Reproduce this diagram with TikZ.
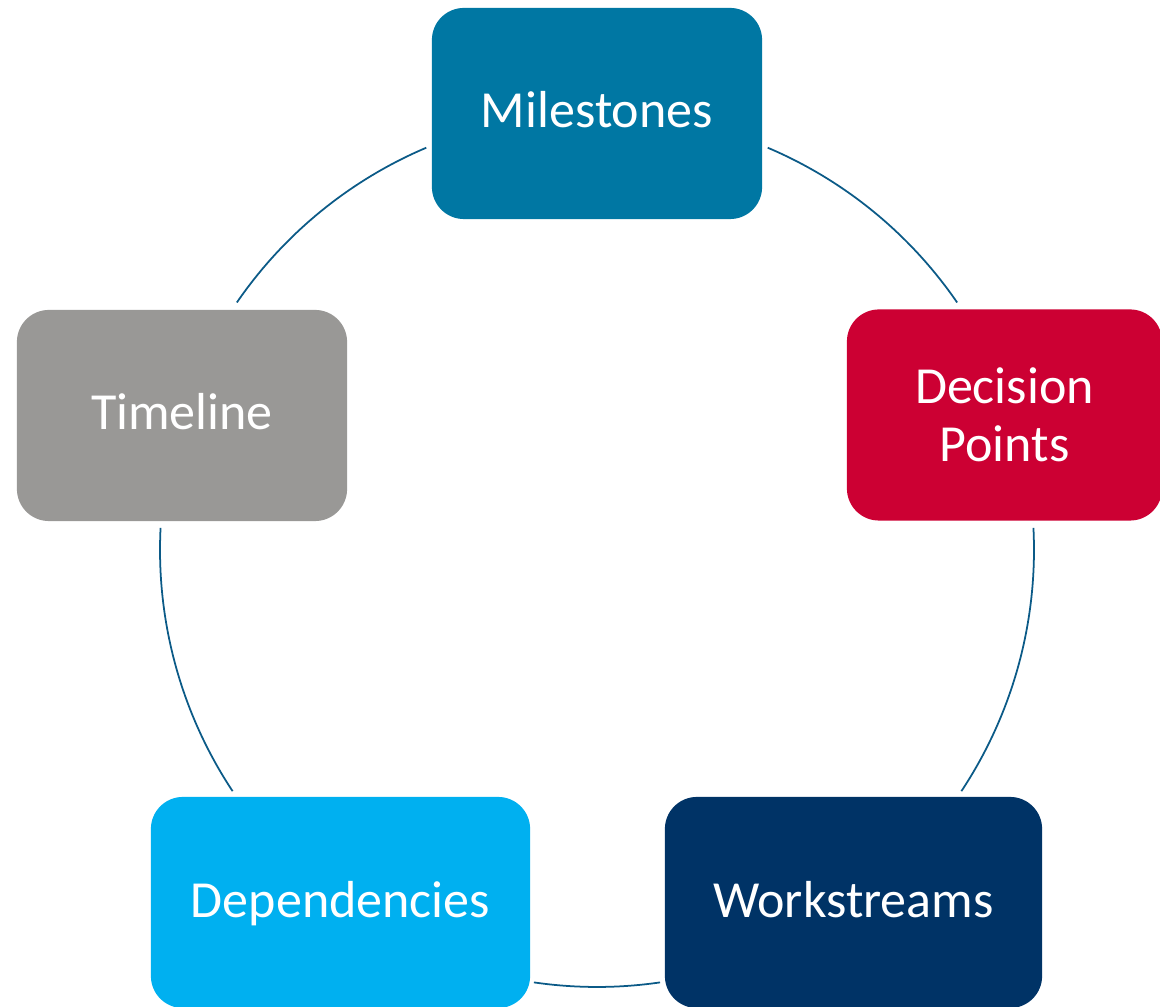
\documentclass[tikz,border=0pt]{standalone}
\usepackage{fontspec}
\setmainfont{Carlito}

\definecolor{milecol}{HTML}{0077A3}
\definecolor{decicol}{HTML}{CC0033}
\definecolor{timecol}{HTML}{999896}
\definecolor{depcol}{HTML}{00B0F0}
\definecolor{workcol}{HTML}{003366}
\definecolor{ringcol}{HTML}{0B5A87}

\tikzset{
    stage/.style={rectangle, rounded corners=0.32cm, minimum height=2.11cm, text=white, align=center,
        font=\fontsize{14.8}{16.5}\selectfont, text height=0.29cm, text depth=0cm},
    ring/.style={draw=ringcol, line width=0.5pt}
}

\begin{document}
\begin{tikzpicture}[x=0.01cm, y=0.01cm]
    \clip (0, 0) rectangle (1160, -1007);

    \node[stage, fill=milecol, minimum width=3.30cm] (M) at (597, -113.5) {Milestones};
    \node[stage, fill=decicol, minimum width=3.15cm, text height={}, text depth={}] (D) at (1004.5, -415) {Decision\\Points};
    \node[stage, fill=timecol, minimum width=3.30cm] (T) at (182, -415.5) {Timeline};
    \node[stage, fill=depcol, minimum width=3.79cm] (P) at (340.5, -902.5) {Dependencies};
    \node[stage, fill=workcol, minimum width=3.77cm] (W) at (853.5, -902.5) {Workstreams};

    % ring round the five stages
    \coordinate (O) at (597, -550);
    \path (O) ++(67:437) coordinate (md);
    \path (O) ++(2.9:437) coordinate (dw);
    \path (O) ++(-81.7:437) coordinate (wp);
    \path (O) ++(-146.5:437) coordinate (pt);
    \path (O) ++(145.5:437) coordinate (tm);

    \draw[ring] (md) arc[start angle=67, end angle=34.5, radius=437];
    \draw[ring] (dw) arc[start angle=2.9, end angle=-33.5, radius=437];
    \draw[ring] (wp) arc[start angle=-81.7, end angle=-98.3, radius=437];
    \draw[ring] (pt) arc[start angle=-146.5, end angle=-182.9, radius=437];
    \draw[ring] (tm) arc[start angle=145.5, end angle=113, radius=437];
\end{tikzpicture}
\end{document}
